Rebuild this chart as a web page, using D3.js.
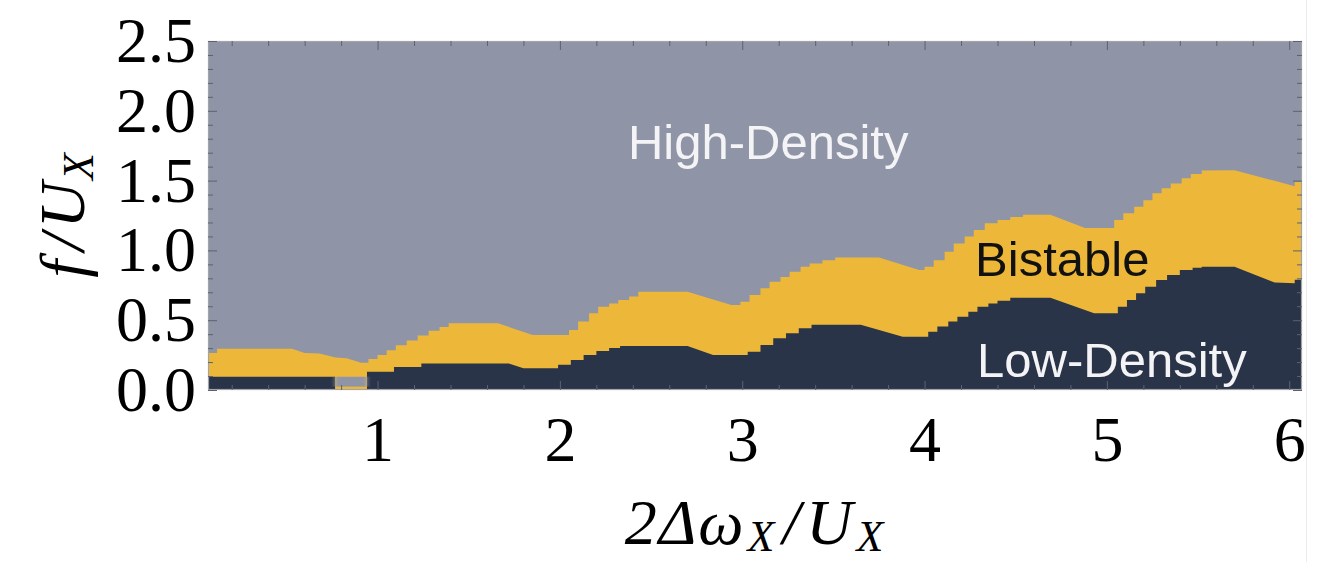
<!DOCTYPE html>
<html>
<head>
<meta charset="utf-8">
<script src="https://cdn.jsdelivr.net/npm/d3@7"></script>
<style>
  html, body { margin: 0; padding: 0; background: #ffffff; }
  svg { display: block; }
</style>
</head>
<body>
<svg id="chart" width="1328" height="562"></svg>
<script>
// Phase diagram: drive strength f/U_X against detuning 2Δω_X/U_X.

// Axis ranges and tick labels
const xDomain = [0.07, 6.07];
const yDomain = [0, 2.5];
const xTickValues = [1, 2, 3, 4, 5, 6];
const yTickValues = [0, 0.5, 1.0, 1.5, 2.0, 2.5];

// Boundary between the bistable region and the high-density region, [x, f/U_X]
const bistableTop = [
  [0.07,0.265],[0.12,0.265],[0.12,0.295],[0.53,0.295],[0.60,0.265],[0.68,0.262],[0.77,0.232],[0.83,0.228],[0.91,0.195],
  [0.95,0.195],[0.95,0.222],[1.00,0.222],[1.00,0.25],[1.05,0.25],[1.05,0.285],[1.10,0.285],[1.10,0.32],[1.16,0.32],
  [1.16,0.355],[1.22,0.355],[1.22,0.39],[1.28,0.39],[1.28,0.425],[1.34,0.425],[1.34,0.452],[1.39,0.452],[1.39,0.478],
  [1.66,0.478],[1.85,0.394],[2.05,0.394],
  [2.05,0.43],[2.10,0.43],[2.10,0.49],[2.16,0.49],[2.16,0.55],[2.21,0.55],[2.21,0.597],[2.27,0.597],[2.27,0.62],
  [2.32,0.62],[2.32,0.645],[2.38,0.645],[2.38,0.67],[2.43,0.67],[2.43,0.704],
  [2.70,0.704],[2.94,0.609],[2.99,0.609],
  [2.99,0.633],[3.04,0.633],[3.04,0.68],[3.10,0.68],[3.10,0.728],[3.15,0.728],[3.15,0.776],[3.21,0.776],[3.21,0.81],
  [3.26,0.81],[3.26,0.847],[3.32,0.847],[3.32,0.883],[3.37,0.883],[3.37,0.907],[3.44,0.907],[3.44,0.93],[3.51,0.93],[3.51,0.95],
  [3.75,0.95],[3.97,0.86],[4.00,0.86],
  [4.00,0.883],[4.05,0.883],[4.05,0.93],[4.11,0.93],[4.11,0.99],[4.16,0.99],[4.16,1.05],[4.22,1.05],[4.22,1.10],
  [4.27,1.10],[4.27,1.146],[4.33,1.146],[4.33,1.194],[4.40,1.194],[4.40,1.218],[4.47,1.218],[4.47,1.24],[4.54,1.24],[4.54,1.255],
  [4.69,1.255],[4.88,1.16],[5.04,1.16],
  [5.04,1.218],[5.09,1.218],[5.09,1.266],[5.15,1.266],[5.15,1.313],[5.20,1.313],[5.20,1.36],[5.25,1.36],[5.25,1.41],
  [5.30,1.41],[5.30,1.445],[5.35,1.445],[5.35,1.48],[5.41,1.48],[5.41,1.516],[5.46,1.516],[5.46,1.547],[5.52,1.547],[5.52,1.572],
  [5.70,1.575],[6.03,1.46],[6.03,1.49],[6.07,1.49]
];

// Boundary between the low-density region and the bistable region (null = no low-density phase)
const lowDensityTop = [
  [0.07,0.095],[0.767,0.095], null,
  [0.942,0.13],[1.09,0.13],[1.09,0.165],[1.24,0.165],[1.24,0.19],[1.72,0.19],[1.80,0.155],[1.99,0.155],
  [1.99,0.18],[2.06,0.18],[2.06,0.215],[2.13,0.215],[2.13,0.25],[2.20,0.25],[2.20,0.28],[2.27,0.28],[2.27,0.30],[2.33,0.30],[2.33,0.315],
  [2.70,0.315],[2.84,0.25],[3.03,0.25],
  [3.03,0.274],[3.10,0.274],[3.10,0.322],[3.17,0.322],[3.17,0.37],[3.24,0.37],[3.24,0.406],[3.31,0.406],[3.31,0.442],[3.38,0.442],[3.38,0.468],
  [3.65,0.468],[3.88,0.382],[4.02,0.382],
  [4.02,0.418],[4.07,0.418],[4.07,0.454],[4.13,0.454],[4.13,0.49],[4.18,0.49],[4.18,0.525],[4.24,0.525],[4.24,0.56],
  [4.29,0.56],[4.29,0.597],[4.35,0.597],[4.35,0.62],[4.40,0.62],[4.40,0.64],[4.47,0.64],[4.47,0.66],
  [4.69,0.66],[4.93,0.55],[5.06,0.55],
  [5.06,0.597],[5.11,0.597],[5.11,0.645],[5.16,0.645],[5.16,0.693],[5.21,0.693],[5.21,0.74],[5.27,0.74],[5.27,0.788],
  [5.33,0.788],[5.33,0.824],[5.40,0.824],[5.40,0.86],[5.47,0.86],[5.47,0.875],[5.52,0.875],[5.52,0.883],
  [5.70,0.883],[5.92,0.77],[6.03,0.765],[6.03,0.79],[6.07,0.79]
];

// Narrow high-density pocket near the bottom edge: [x, lower f, upper f]
const highDensityPocket = [
  [0.767,0.024,0.095],[0.942,0.024,0.095]
];

// Region labels: [text, x, f at baseline]
const regionLabels = [
  ["High-Density", 2.373, 1.655],
  ["Bistable", 4.277, 0.817],
  ["Low-Density", 4.288, 0.095]
];

const colors = {
  high: "#8f95a6",
  bistable: "#edb83a",
  low: "#2a3448"
};

const W = 1328, H = 562;
const margin = { top: 41, right: 26, bottom: 172, left: 208 };
const svg = d3.select("#chart");

const x = d3.scaleLinear().domain(xDomain).range([margin.left, W - margin.right]);
const y = d3.scaleLinear().domain(yDomain).range([H - margin.bottom, margin.top]);

svg.append("defs").append("clipPath").attr("id", "plot-clip")
  .append("rect")
  .attr("x", x.range()[0]).attr("y", y.range()[1])
  .attr("width", x.range()[1] - x.range()[0])
  .attr("height", y.range()[0] - y.range()[1]);

svg.select("defs").append("filter").attr("id", "soft")
  .attr("x", "-50%").attr("width", "200%")
  .append("feGaussianBlur").attr("stdDeviation", "2.2 0.6");

const plot = svg.append("g").attr("clip-path", "url(#plot-clip)");

// High-density background over the whole domain
plot.append("rect")
  .attr("x", x.range()[0]).attr("y", y.range()[1])
  .attr("width", x.range()[1] - x.range()[0])
  .attr("height", y.range()[0] - y.range()[1])
  .attr("fill", colors.high);

// Bistable region: from f = 0 up to its upper boundary
plot.append("path")
  .datum(bistableTop)
  .attr("fill", colors.bistable)
  .attr("d", d3.area().x(d => x(d[0])).y0(y(0)).y1(d => y(d[1])));

// Low-density region
plot.append("path")
  .datum(lowDensityTop)
  .attr("fill", colors.low)
  .attr("d", d3.area().defined(d => d !== null).x(d => x(d[0])).y0(y(0)).y1(d => y(d[1])));

// High-density pocket inside the low-density band
plot.append("path")
  .datum(highDensityPocket)
  .attr("fill", colors.high)
  .attr("filter", "url(#soft)")
  .attr("d", d3.area().x(d => x(d[0])).y0(d => y(d[1])).y1(d => y(d[2])));

// Region labels
svg.append("g")
  .selectAll("text")
  .data(regionLabels)
  .join("text")
  .attr("x", d => x(d[1]))
  .attr("y", d => y(d[2]))
  .attr("font-family", "'Liberation Sans', Arial, sans-serif")
  .attr("font-size", 49)
  .attr("fill", d => d[0] === "Bistable" ? "#111111" : "#f4f4f6")
  .text(d => d[0]);

// Frame
svg.append("rect")
  .attr("x", x.range()[0] + 0.5).attr("y", y.range()[1] + 0.5)
  .attr("width", x.range()[1] - x.range()[0] - 1)
  .attr("height", y.range()[0] - y.range()[1] - 1)
  .attr("fill", "none").attr("stroke", "#a2a4a8").attr("stroke-width", 1.2);

// Frame ticks on all four sides, pointing inward
const xMinor = d3.range(0.2, 6.01, 0.2).filter(v => Math.abs(v - Math.round(v)) > 1e-6);
const yMinor = d3.range(0.1, 2.41, 0.1).filter(v => Math.abs(v * 2 - Math.round(v * 2)) > 1e-6);

function tickLayer(axisFn, scale, values, size, transform) {
  const g = svg.append("g")
    .attr("transform", transform)
    .call(axisFn(scale).tickValues(values).tickSize(-size).tickFormat(""));
  g.select(".domain").remove();
  g.selectAll(".tick line").attr("stroke", "#5d6270").attr("stroke-width", 1);
  return g;
}
const bottomY = y.range()[0], topY = y.range()[1];
const leftX = x.range()[0], rightX = x.range()[1];
tickLayer(d3.axisBottom, x, xTickValues, 9, `translate(0,${bottomY})`);
tickLayer(d3.axisBottom, x, xMinor, 5, `translate(0,${bottomY})`);
tickLayer(d3.axisTop, x, xTickValues, 9, `translate(0,${topY})`);
tickLayer(d3.axisTop, x, xMinor, 5, `translate(0,${topY})`);
tickLayer(d3.axisLeft, y, yTickValues, 9, `translate(${leftX},0)`);
tickLayer(d3.axisLeft, y, yMinor, 5, `translate(${leftX},0)`);
tickLayer(d3.axisRight, y, yTickValues, 9, `translate(${rightX},0)`);
tickLayer(d3.axisRight, y, yMinor, 5, `translate(${rightX},0)`);

// Tick labels
const serif = "'Liberation Serif', 'Times New Roman', serif";
const xLab = svg.append("g")
  .attr("transform", `translate(0,${bottomY})`)
  .call(d3.axisBottom(x).tickValues(xTickValues).tickSize(0).tickPadding(26).tickFormat(d3.format("d")));
xLab.select(".domain").remove();
xLab.selectAll("text").attr("font-family", serif).attr("font-size", 64).attr("fill", "#000");

const yLab = svg.append("g")
  .attr("transform", `translate(${leftX},0)`)
  .call(d3.axisLeft(y).tickValues(yTickValues).tickSize(0).tickPadding(12).tickFormat(d3.format(".1f")));
yLab.select(".domain").remove();
yLab.selectAll("text").attr("font-family", serif).attr("font-size", 64).attr("fill", "#000");

// Axis titles
const xTitle = svg.append("text")
  .attr("x", (leftX + rightX) / 2)
  .attr("y", 544)
  .attr("text-anchor", "middle")
  .attr("font-family", serif)
  .attr("font-style", "italic")
  .attr("font-size", 64)
  .attr("letter-spacing", 2)
  .attr("fill", "#000");
xTitle.append("tspan").text("2Δω");
xTitle.append("tspan").attr("font-size", 44).attr("dy", 7).attr("dx", 2).text("X");
xTitle.append("tspan").attr("dy", -7).attr("dx", 6).text("/");
xTitle.append("tspan").attr("dx", 4).text("U");
xTitle.append("tspan").attr("font-size", 44).attr("dy", 7).attr("dx", 2).text("X");

const yTitle = svg.append("text")
  .attr("transform", `translate(84,${(topY + bottomY) / 2}) rotate(-90)`)
  .attr("text-anchor", "middle")
  .attr("font-family", serif)
  .attr("font-style", "italic")
  .attr("font-size", 64)
  .attr("fill", "#000");
yTitle.append("tspan").text("f");
yTitle.append("tspan").attr("dx", 9).text("/");
yTitle.append("tspan").attr("dx", 5).text("U");
yTitle.append("tspan").attr("font-size", 44).attr("dy", 9).attr("dx", 2).text("X");

// Thin page edge on the right
svg.append("line")
  .attr("x1", 1306.5).attr("x2", 1306.5).attr("y1", 0).attr("y2", H)
  .attr("stroke", "#ececec").attr("stroke-width", 1);
</script>
</body>
</html>
